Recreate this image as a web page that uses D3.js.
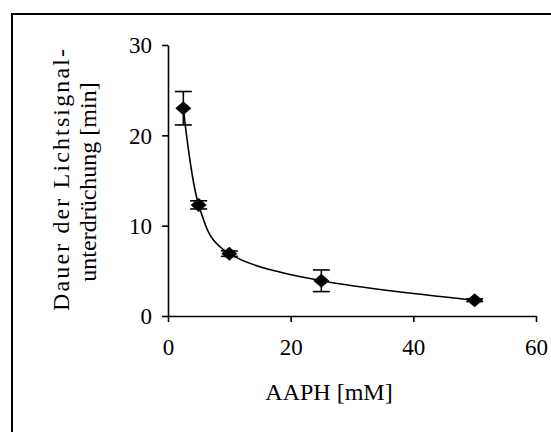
<!DOCTYPE html>
<html>
<head>
<meta charset="utf-8">
<script src="https://cdn.jsdelivr.net/npm/d3@7"></script>
<style>
  body { margin: 0; background: #fff; }
  svg { display: block; font-family: "Liberation Serif", "Times New Roman", serif; }
</style>
</head>
<body>
<div id="vis"></div>
<script>
// data
var aaph = [2.5, 5, 10, 25, 50];
var dauer = [23.0, 12.3, 6.9, 3.9, 1.75];
var fehler = [1.85, 0.45, 0.3, 1.2, 0.15];
var xTicks = [0, 20, 40, 60];
var yTicks = [0, 10, 20, 30];

var width = 551;
var height = 432;

var svg = d3.select('#vis')
  .append('svg')
  .attr('width', width)
  .attr('height', height);

// frame of the chart area (runs off the right and bottom edge)
svg.append('rect')
  .attr('x', 12).attr('y', 14)
  .attr('width', 560).attr('height', 440)
  .attr('fill', 'none')
  .attr('stroke', '#000')
  .attr('stroke-width', 2);

var x = d3.scaleLinear().domain([0, 60]).range([168, 536]);
var y = d3.scaleLinear().domain([0, 30]).range([316, 45]);

var xAxis = svg.append('g')
  .attr('transform', 'translate(0,' + y(0) + ')')
  .call(d3.axisBottom(x).tickValues(xTicks).tickSize(6).tickPadding(17).tickSizeOuter(0));

var yAxis = svg.append('g')
  .attr('transform', 'translate(' + x(0) + ',0)')
  .call(d3.axisLeft(y).tickValues(yTicks).tickSize(6).tickPadding(10).tickSizeOuter(0));

[xAxis, yAxis].forEach(function (g) {
  g.select('.domain').attr('stroke-width', 1.6);
  g.selectAll('.tick line').attr('stroke-width', 1.6);
  g.selectAll('.tick text')
    .attr('font-family', '"Liberation Serif", serif')
    .attr('font-size', 23)
    .attr('fill', '#000');
});
yAxis.selectAll('.tick text').attr('dy', '0.34em');

// smoothed line through the points
var line = d3.line()
  .x(function (d, i) { return x(aaph[i]); })
  .y(function (d) { return y(d); })
  .curve(d3.curveCatmullRom.alpha(0));

svg.append('path')
  .datum(dauer)
  .attr('d', line)
  .attr('fill', 'none')
  .attr('stroke', '#000')
  .attr('stroke-width', 1.6);

// error bars
var bars = svg.append('g').selectAll('g')
  .data(dauer)
  .join('g')
  .attr('stroke', '#000')
  .attr('stroke-width', 1.6);

bars.append('line')
  .attr('x1', function (d, i) { return x(aaph[i]); })
  .attr('x2', function (d, i) { return x(aaph[i]); })
  .attr('y1', function (d, i) { return y(d + fehler[i]); })
  .attr('y2', function (d, i) { return y(d - fehler[i]); });

[1, -1].forEach(function (s) {
  bars.append('line')
    .attr('x1', function (d, i) { return x(aaph[i]) - 8.5; })
    .attr('x2', function (d, i) { return x(aaph[i]) + 8.5; })
    .attr('y1', function (d, i) { return y(d + s * fehler[i]); })
    .attr('y2', function (d, i) { return y(d + s * fehler[i]); });
});

// diamond markers
svg.append('g').selectAll('path')
  .data(dauer)
  .join('path')
  .attr('transform', function (d, i) { return 'translate(' + x(aaph[i]) + ',' + y(d) + ')'; })
  .attr('d', 'M0,-7L8,0L0,7L-8,0Z')
  .attr('fill', '#000');

// axis titles
svg.append('text')
  .attr('x', 329).attr('y', 400)
  .attr('text-anchor', 'middle')
  .attr('font-size', 24)
  .text('AAPH [mM]');

var yl = svg.append('text')
  .attr('transform', 'rotate(-90)')
  .attr('text-anchor', 'middle')
  .attr('font-size', 24);
yl.append('tspan').attr('x', -180).attr('y', 69)
  .attr('textLength', 262).attr('lengthAdjust', 'spacing')
  .text('Dauer der Lichtsignal-');
yl.append('tspan').attr('x', -182).attr('y', 96)
  .text('unterdrüchung [min]');
</script>
</body>
</html>
